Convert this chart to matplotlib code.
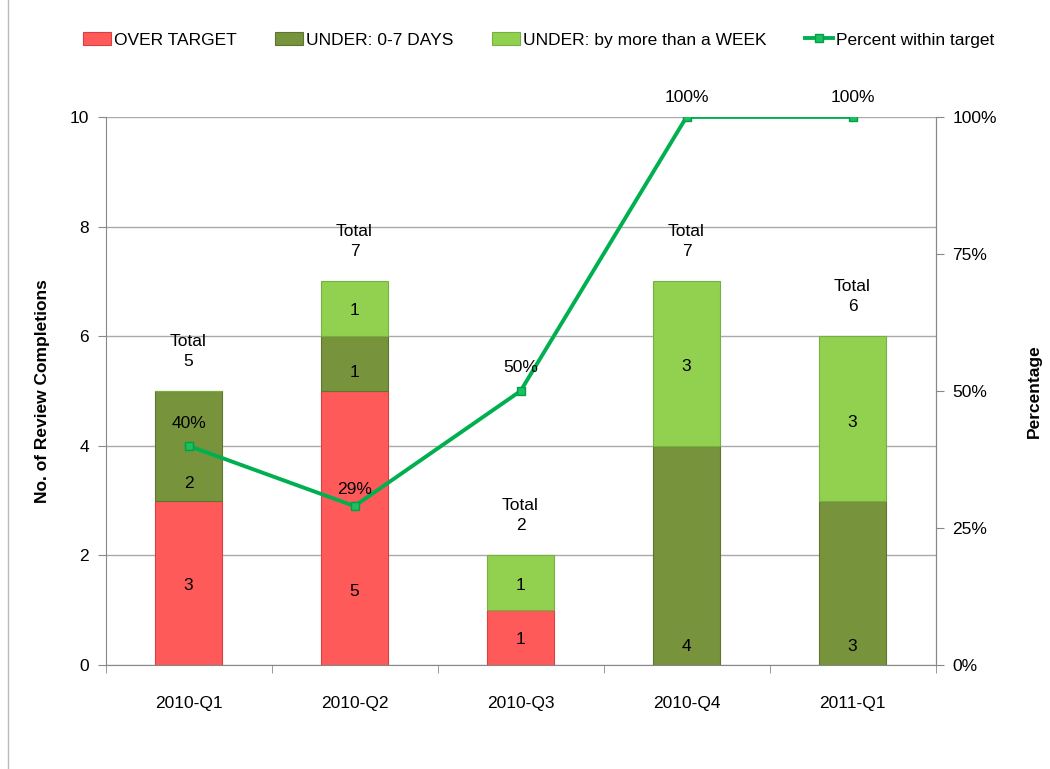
import numpy as np
import matplotlib
matplotlib.use("Agg")
import matplotlib.pyplot as plt
from matplotlib.ticker import FuncFormatter

# Data
quarters = ["2010-Q1", "2010-Q2", "2010-Q3", "2010-Q4", "2011-Q1"]
over_target = [3, 5, 1, 0, 0]
under_0_7 = [2, 1, 0, 4, 3]
under_week = [0, 1, 1, 3, 3]
pct_within = [40, 29, 50, 100, 100]

# Where the data labels sit (in count units), as in the reference
over_lbl_y = [1.46, 1.35, 0.46, None, None]
under07_lbl_y = [3.32, 5.33, None, 0.33, 0.33]
week_lbl_y = [None, 6.46, 1.46, 5.44, 4.43]
pct_lbl_y = [4.4, 3.2, 5.42, 10.36, 10.36]

plt.rcParams['font.family'] = ['Liberation Sans', 'DejaVu Sans']

c_red = "#FF5A5A"
c_dark = "#77933C"
c_light = "#92D050"
c_line = "#00B050"

fig = plt.figure(figsize=(10.5, 7.69), dpi=100)
ax = fig.add_axes([0.1005, 0.1352, 0.7905, 0.7127])
x = np.arange(len(quarters))
w = 0.4

over = np.array(over_target)
u07 = np.array(under_0_7)
uw = np.array(under_week)

ax.bar(x, over, w, color=c_red, edgecolor="#D94040", linewidth=0.8, label="OVER TARGET", zorder=2)
ax.bar(x, u07, w, bottom=over, color=c_dark, edgecolor="#5E7530", linewidth=0.8,
       label="UNDER: 0-7 DAYS", zorder=2)
ax.bar(x, uw, w, bottom=over + u07, color=c_light, edgecolor="#76B040", linewidth=0.8,
       label="UNDER: by more than a WEEK", zorder=2)

fs = 12.5
for i in range(len(quarters)):
    for vals, ys in ((over, over_lbl_y), (u07, under07_lbl_y), (uw, week_lbl_y)):
        if vals[i] > 0 and ys[i] is not None:
            ax.text(x[i], ys[i], str(vals[i]), ha="center", va="center", fontsize=fs, zorder=5)
    total = over[i] + u07[i] + uw[i]
    ax.text(x[i], total + 0.4, "Total\n" + str(total), ha="center", va="bottom",
            fontsize=fs, linespacing=1.45, zorder=5)

ax.set_xlim(-0.5, len(quarters) - 0.5)
ax.set_ylim(0, 10)
ax.set_yticks(range(0, 11, 2))
ax.set_xticks(x)
ax.set_xticklabels(quarters)
ax.set_xticks(np.arange(-0.5, len(quarters), 1), minor=True)
ax.tick_params(axis="x", which="major", length=0, pad=22, labelsize=fs)
ax.tick_params(axis="x", which="minor", length=6, color="#888888")
ax.tick_params(axis="y", length=6, color="#888888", labelsize=fs, pad=6)
ax.grid(axis="y", color="#AAAAAA", linewidth=1, zorder=0)
ax.set_axisbelow(True)
ax.spines["top"].set_visible(False)
for s in ["left", "right", "bottom"]:
    ax.spines[s].set_color("#888888")
ax.set_ylabel("No. of Review Completions", fontsize=fs, fontweight="bold", labelpad=14)

ax2 = ax.twinx()
ax2.set_ylim(0, 100)
ax2.set_yticks([0, 25, 50, 75, 100])
ax2.yaxis.set_major_formatter(FuncFormatter(lambda v, p: "%d%%" % v))
ax2.tick_params(axis="y", length=6, color="#888888", labelsize=fs, pad=6)
for s in ["top", "left", "bottom"]:
    ax2.spines[s].set_visible(False)
ax2.spines["right"].set_color("#888888")
ax2.set_ylabel("Percentage", fontsize=fs, fontweight="bold", labelpad=22)
ln, = ax2.plot(x, pct_within, color=c_line, linewidth=2.8, marker="s", markersize=6,
               markerfacecolor="#1DBF5E", markeredgecolor="#00A046", label="Percent within target",
               zorder=4)
for i in range(len(quarters)):
    ax2.text(x[i], pct_lbl_y[i] * 10, "%d%%" % pct_within[i], ha="center", va="center",
             fontsize=fs, zorder=6)

h1, l1 = ax.get_legend_handles_labels()
fig.legend(h1 + [ln], l1 + ["Percent within target"], loc="center", bbox_to_anchor=(0.513, 0.948),
           ncol=4, frameon=False, fontsize=fs, handlelength=1.6, handletextpad=0.2,
           columnspacing=2.2)

# thin chart border on the left edge
fig.add_artist(plt.Line2D([0.008, 0.008], [0, 1], color="#BBBBBB", linewidth=1))

fig.savefig("out.png", dpi=100)
